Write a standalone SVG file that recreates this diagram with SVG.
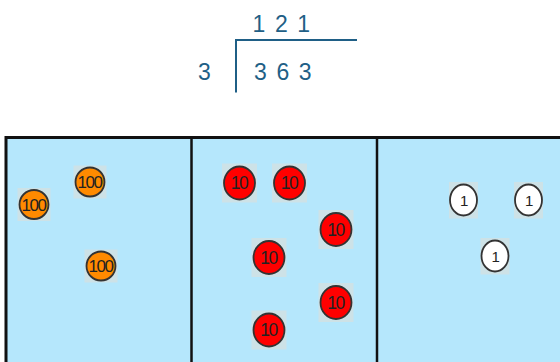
<svg xmlns="http://www.w3.org/2000/svg" width="560" height="362" viewBox="0 0 560 362">
<style>
.num{font-family:"Liberation Sans",Arial,sans-serif;font-size:23px;fill:#1f5f86}
.bg{fill:#cde2e7}
.c{stroke:#333;stroke-width:1.8}
.t{font-family:"Liberation Sans",Arial,sans-serif;fill:#222;text-anchor:middle;letter-spacing:-1.5px}
</style>
<rect width="560" height="362" fill="#fff"/>
<g id="division">
<text class="num" x="252.5" y="31.5" letter-spacing="1.6">1 2 1</text>
<text class="num" x="198" y="80">3</text>
<text class="num" x="254" y="80" letter-spacing="1.6">3 6 3</text>
<path d="M236 92.5V40H357" fill="none" stroke="#1f5f86" stroke-width="2"/>
</g>
<g id="panels">
<rect x="6" y="137.5" width="570" height="240" fill="#b5e7fc" stroke="#111" stroke-width="3"/>
<line x1="191.5" y1="137" x2="191.5" y2="362" stroke="#111" stroke-width="2.5"/>
<line x1="377" y1="137" x2="377" y2="362" stroke="#111" stroke-width="2.5"/>
</g>
<g id="hundreds">
<g id="h1"><rect class="bg" x="73.5" y="165.5" width="33" height="33"/><circle class="c" cx="90" cy="182" r="14.5" fill="#ff8a00"/><text class="t" x="89.5" y="188" font-size="17">100</text></g>
<g id="h2"><rect class="bg" x="17.5" y="188" width="33" height="33"/><circle class="c" cx="34" cy="204.5" r="14.5" fill="#ff8a00"/><text class="t" x="33.5" y="210.5" font-size="17">100</text></g>
<g id="h3"><rect class="bg" x="84.5" y="249.5" width="33" height="33"/><circle class="c" cx="101" cy="266" r="14.5" fill="#ff8a00"/><text class="t" x="100.5" y="272" font-size="17">100</text></g>
</g>
<g id="tens">
<g id="t1"><rect class="bg" x="222" y="163.5" width="35" height="39"/><ellipse class="c" cx="239.5" cy="183" rx="15.5" ry="16.5" fill="#f00"/><text class="t" x="239" y="189.3" font-size="17.5">10</text></g>
<g id="t2"><rect class="bg" x="272" y="163.5" width="35" height="39"/><ellipse class="c" cx="289.5" cy="183" rx="15.5" ry="16.5" fill="#f00"/><text class="t" x="289" y="189.3" font-size="17.5">10</text></g>
<g id="t3"><rect class="bg" x="318.5" y="210" width="35" height="39"/><ellipse class="c" cx="336" cy="229.5" rx="15.5" ry="16.5" fill="#f00"/><text class="t" x="335.5" y="235.8" font-size="17.5">10</text></g>
<g id="t4"><rect class="bg" x="251.5" y="238" width="35" height="39"/><ellipse class="c" cx="269" cy="257.5" rx="15.5" ry="16.5" fill="#f00"/><text class="t" x="268.5" y="263.8" font-size="17.5">10</text></g>
<g id="t5"><rect class="bg" x="318.5" y="283" width="35" height="39"/><ellipse class="c" cx="336" cy="302.5" rx="15.5" ry="16.5" fill="#f00"/><text class="t" x="335.5" y="308.8" font-size="17.5">10</text></g>
<g id="t6"><rect class="bg" x="251.5" y="310.5" width="35" height="39"/><ellipse class="c" cx="269" cy="330" rx="15.5" ry="16.5" fill="#f00"/><text class="t" x="268.5" y="336.3" font-size="17.5">10</text></g>
</g>
<g id="ones">
<g id="o1"><rect class="bg" x="449" y="182" width="29" height="36.5"/><ellipse class="c" cx="463.5" cy="200" rx="13.5" ry="15.5" fill="#fff"/><text class="t" x="463.5" y="205.5" font-size="15">1</text></g>
<g id="o2"><rect class="bg" x="514" y="182" width="29" height="36.5"/><ellipse class="c" cx="528.5" cy="200" rx="13.5" ry="15.5" fill="#fff"/><text class="t" x="528.5" y="205.5" font-size="15">1</text></g>
<g id="o3"><rect class="bg" x="480.5" y="238" width="29" height="36.5"/><ellipse class="c" cx="495" cy="256" rx="13.5" ry="15.5" fill="#fff"/><text class="t" x="495" y="261.5" font-size="15">1</text></g>
</g>
</svg>
